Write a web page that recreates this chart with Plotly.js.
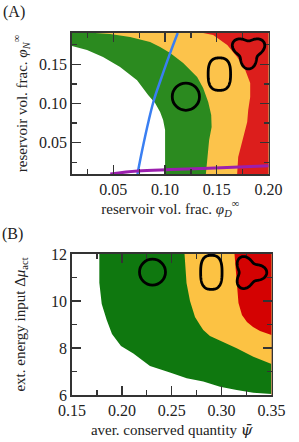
<!DOCTYPE html>
<html><head><meta charset="utf-8">
<script src="https://cdn.plot.ly/plotly-3.0.1.min.js"></script>
<style>html,body{margin:0;padding:0;background:#fff}#chart{width:299px;height:442px}</style>
</head><body><div id="chart"></div>
<script>
// ---------- Panel A data (reservoir vol. fractions) ----------
const aWhiteGreenX = [0.010,0.0245,0.040,0.0565,0.0729,0.0836,0.0903,0.0952,0.0981,0.1000,0.1000];
const aWhiteGreenY = [0.1735,0.1684,0.1594,0.1467,0.1298,0.1109,0.1007,0.0892,0.0790,0.0662,0.010];
const aGreenYellowX = [0.0323,0.0468,0.0661,0.0855,0.0952,0.1049,0.1175,0.1310,0.1368,0.1417,0.1446,0.1450,0.1426,0.1407,0.1388];
const aGreenYellowY = [0.190,0.1888,0.185,0.1786,0.1722,0.1645,0.1518,0.1339,0.1198,0.102,0.0853,0.070,0.0534,0.0279,0.010];
const aYellowRedX = [0.1368,0.1465,0.1601,0.1697,0.1775,0.1823,0.1823,0.1804,0.1794,0.1746,0.1707,0.1697];
const aYellowRedY = [0.190,0.1875,0.1747,0.1594,0.1428,0.1262,0.1083,0.0917,0.0764,0.0534,0.0317,0.010];
const aBlueX = [0.0733,0.0779,0.0843,0.0892,0.0957,0.1054,0.1122];
const aBlueY = [0.010,0.0407,0.079,0.1045,0.130,0.1662,0.190];
const aPurpleX = [0.047,0.0733,0.1054,0.1541,0.2008];
const aPurpleY = [0.010,0.0138,0.0157,0.018,0.0206];

// ---------- Panel B data (aver. conserved quantity vs energy input) ----------
const bWhiteGreenX = [0.1774,0.1774,0.1798,0.1848,0.1901,0.1991,0.2115,0.2282,0.2482,0.265,0.2816,0.2984,0.3151,0.3318,0.350];
const bWhiteGreenY = [12.0,10.78,9.87,9.19,8.60,8.09,7.77,7.23,6.96,6.71,6.57,6.35,6.21,6.10,6.04];
const bGreenYellowX = [0.2628,0.2648,0.2683,0.2733,0.2783,0.2816,0.2883,0.2984,0.3151,0.3318,0.350];
const bGreenYellowY = [12.0,10.77,10.0,9.32,8.98,8.77,8.51,8.32,7.99,7.63,7.32];
const bYellowRedX = [0.3129,0.3149,0.3169,0.3204,0.3254,0.3315,0.3385,0.350];
const bYellowRedY = [12.0,10.77,9.91,9.40,9.11,8.89,8.72,8.55];

const rangeA = {x:[0.01,0.20], y:[0.01,0.19]};
const rangeB = {x:[0.15,0.35], y:[6,12]};

const colA = {green:'#2b8a1f', yellow:'#fcc34b', red:'#dc1e1c'};
const colB = {green:'#0f780f', yellow:'#fcc243', red:'#d40202'};

// closes a boundary curve around the right side of the plot (values beyond range are clipped)
function region(xs, ys, rng, xa, ya, color){
  const dx = (rng.x[1]-rng.x[0])*0.05, dy = (rng.y[1]-rng.y[0])*0.05;
  const X = xs.slice(), Y = ys.slice();
  X.push(X[X.length-1], rng.x[1]+dx, rng.x[1]+dx, X[0]);
  Y.push(rng.y[0]-dy, rng.y[0]-dy, rng.y[1]+dy, rng.y[1]+dy);
  return {x:X, y:Y, xaxis:xa, yaxis:ya, mode:'lines', fill:'toself', fillcolor:color,
          line:{width:0, color:color}, hoverinfo:'skip', showlegend:false};
}
function regionLeftTop(xs, ys, rng, xa, ya, color){
  // green region of panel A: right of the white boundary, incl. top-left corner
  const dx = (rng.x[1]-rng.x[0])*0.05, dy = (rng.y[1]-rng.y[0])*0.05;
  const X = [rng.x[0]-dx].concat(xs), Y = [ys[0]].concat(ys);
  X.push(xs[xs.length-1], rng.x[1]+dx, rng.x[1]+dx, rng.x[0]-dx);
  Y.push(rng.y[0]-dy, rng.y[0]-dy, rng.y[1]+dy, rng.y[1]+dy);
  return {x:X, y:Y, xaxis:xa, yaxis:ya, mode:'lines', fill:'toself', fillcolor:color,
          line:{width:0, color:color}, hoverinfo:'skip', showlegend:false};
}

const traces = [
  regionLeftTop(aWhiteGreenX, aWhiteGreenY, rangeA, 'x', 'y', colA.green),
  region(aGreenYellowX, aGreenYellowY, rangeA, 'x', 'y', colA.yellow),
  region(aYellowRedX, aYellowRedY, rangeA, 'x', 'y', colA.red),
  {x:aBlueX, y:aBlueY, xaxis:'x', yaxis:'y', mode:'lines', line:{color:'#3a7ff2', width:2.5, shape:'spline'}, hoverinfo:'skip', showlegend:false},
  {x:aPurpleX, y:aPurpleY, xaxis:'x', yaxis:'y', mode:'lines', line:{color:'#9b1fae', width:3, shape:'spline'}, hoverinfo:'skip', showlegend:false},
  region(bWhiteGreenX, bWhiteGreenY, rangeB, 'x2', 'y2', colB.green),
  region(bGreenYellowX, bGreenYellowY, rangeB, 'x2', 'y2', colB.yellow),
  region(bYellowRedX, bYellowRedY, rangeB, 'x2', 'y2', colB.red)
];

// ---------- Icons (drop shapes) ----------
const W = 299, H = 442;
const domA = {x:[72/W, 268.5/W], y:[(H-174)/H, (H-33)/H]};
const domB = {x:[72/W, 271.5/W], y:[(H-395)/H, (H-254)/H]};
// pixels per data unit
const sA = {x:196.5/0.19, y:141/0.18};
const sB = {x:199.5/0.20, y:141/6};

function outline(cx, cy, s, fn, xr, yr){
  let p = '';
  for(let i=0;i<=120;i++){
    const t = 2*Math.PI*i/120;
    const [dx,dy] = fn(t);
    p += (i===0?'M':'L') + (cx+dx/s.x).toFixed(5) + ',' + (cy+dy/s.y).toFixed(5);
  }
  return {type:'path', path:p+'Z', xref:xr, yref:yr, line:{color:'#000', width:2.8}};
}
function circ(cx, cy, r, s, xr, yr){
  return {type:'circle', xref:xr, yref:yr, x0:cx-r/s.x, x1:cx+r/s.x, y0:cy-r/s.y, y1:cy+r/s.y, line:{color:'#000', width:2.8}};
}
const sgnpow = (v,p)=>Math.sign(v)*Math.pow(Math.abs(v),p);
const superEll = (a,b,n)=>t=>[a*sgnpow(Math.cos(t),2/n), b*sgnpow(Math.sin(t),2/n)];
const trefoil = (R,k,th0)=>t=>{const r=R*(1+k*Math.cos(3*(t-th0))); return [r*Math.cos(t), r*Math.sin(t)];};

const shapes = [
  circ(0.1201, 0.1087, 13.6, sA, 'x', 'y'),
  outline(0.1525, 0.1375, sA, superEll(11.2, 16.2, 2.7), 'x', 'y'),
  outline(0.1807, 0.1668, sA, trefoil(14, 0.27, Math.PI/6), 'x', 'y'),
  circ(0.2307, 11.23, 13.0, sB, 'x2', 'y2'),
  outline(0.2897, 11.22, sB, superEll(10.7, 17, 2.7), 'x2', 'y2'),
  outline(0.3277, 11.21, sB, trefoil(13.8, 0.27, 0), 'x2', 'y2')
];

const font = {family:'Liberation Serif, DejaVu Serif, serif', size:15, color:'#222'};
const tfont = {family:'Liberation Serif, DejaVu Serif, serif', size:16, color:'#222'};
function ax(rng, dtick, minor, dom, anchor, title, standoff){
  return {range:rng, domain:dom, anchor:anchor, dtick:dtick, tick0:0,
    tickformat: dtick<1 ? '.2f' : 'd', ticks:'inside', ticklen:9, tickwidth:1.3, tickcolor:'#333',
    minor:{dtick:minor, ticks:'inside', ticklen:5, tickwidth:1.3, tickcolor:'#333'},
    showline:true, linecolor:'#333', linewidth:1.8, mirror:'ticks', showgrid:false, zeroline:false,
    tickfont:tfont, title:{text:title, font:font, standoff:standoff}, fixedrange:true};
}

const psiBar = '<span style="font-family:\'DejaVu Serif\'"><i>ψ̄</i></span>';
const layout = {
  width:W, height:H, margin:{l:0,r:0,t:0,b:0}, paper_bgcolor:'#fff', plot_bgcolor:'#fff',
  showlegend:false, font:font,
  xaxis: ax(rangeA.x, 0.05, 0.025, domA.x, 'y', 'reservoir vol. frac. <i>φ</i><sub><i>D</i></sub><sup>∞</sup>', 6),
  yaxis: ax(rangeA.y, 0.05, 0.025, domA.y, 'x', 'reservoir vol. frac. <i>φ</i><sub><i>N</i></sub><sup>∞</sup>', 8),
  xaxis2: ax(rangeB.x, 0.05, 0.025, domB.x, 'y2', 'aver. conserved quantity ' + psiBar, 6),
  yaxis2: ax(rangeB.y, 2, 1, domB.y, 'x2', 'ext. energy input Δ<i>μ</i><sub>act</sub>', 22),
  shapes: shapes,
  annotations:[
    {text:'(A)', xref:'paper', yref:'paper', x:1/W, y:1-1/H, xanchor:'left', yanchor:'top', showarrow:false, font:{family:font.family, size:16, color:'#222'}},
    {text:'(B)', xref:'paper', yref:'paper', x:0, y:1-223/H, xanchor:'left', yanchor:'top', showarrow:false, font:{family:font.family, size:16, color:'#222'}}
  ]
};
Plotly.newPlot('chart', traces, layout, {staticPlot:true, displayModeBar:false});
</script></body></html>
